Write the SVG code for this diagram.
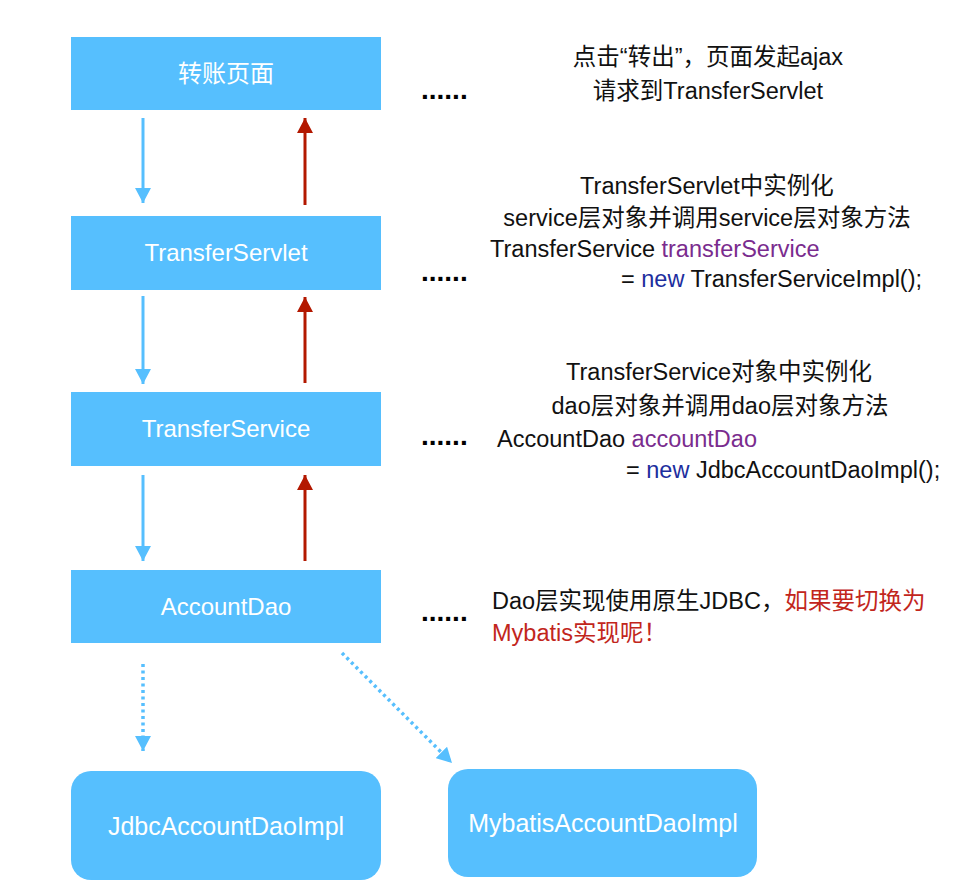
<svg xmlns="http://www.w3.org/2000/svg" width="973" height="886" viewBox="0 0 973 886">
<style>
.box{fill:#56BFFE;}
.lbl{font-family:"Liberation Sans","Noto Sans CJK SC",sans-serif;font-size:24px;fill:#ffffff;text-anchor:middle;}
.big{font-size:25px;}
.txt{font-family:"Liberation Sans","Noto Sans CJK SC",sans-serif;font-size:23.5px;fill:#111111;}
.mid{text-anchor:middle;}
.dots{font-family:"Liberation Sans",sans-serif;font-size:28px;font-weight:bold;fill:#000000;}
.purple{fill:#7A2C8E;}
.kw{fill:#1D2E9E;}
.red{fill:#C2261C;}
.down{stroke:#56BFFE;stroke-width:3;fill:none;}
.up{stroke:#B31800;stroke-width:3;fill:none;}
.dot{stroke:#56BFFE;stroke-width:3.5;fill:none;stroke-dasharray:3 3.5;}
</style>
<defs>
<marker id="ab" viewBox="0 0 15 16" refX="15" refY="8" markerWidth="15" markerHeight="16" markerUnits="userSpaceOnUse" orient="auto">
<path d="M0,0 L15,8 L0,16 Z" fill="#56BFFE"/>
</marker>
<marker id="ar" viewBox="0 0 15 16" refX="15" refY="8" markerWidth="15" markerHeight="16" markerUnits="userSpaceOnUse" orient="auto">
<path d="M0,0 L15,8 L0,16 Z" fill="#B31800"/>
</marker>
</defs>
<rect width="973" height="886" fill="#ffffff"/>

<g id="node-page"><rect class="box" x="71" y="37" width="310" height="73"/><text class="lbl" x="226" y="82">转账页面</text></g>
<g id="node-servlet"><rect class="box" x="71" y="216" width="310" height="74"/><text class="lbl" x="226" y="261">TransferServlet</text></g>
<g id="node-service"><rect class="box" x="71" y="392" width="310" height="74"/><text class="lbl" x="226" y="437">TransferService</text></g>
<g id="node-dao"><rect class="box" x="71" y="570" width="310" height="73"/><text class="lbl" x="226" y="615">AccountDao</text></g>
<g id="node-jdbc"><rect class="box" x="71" y="771" width="310" height="109" rx="20"/><text class="lbl big" x="226" y="835">JdbcAccountDaoImpl</text></g>
<g id="node-mybatis"><rect class="box" x="448" y="769" width="309" height="108" rx="20"/><text class="lbl big" x="603" y="832">MybatisAccountDaoImpl</text></g>

<g id="connectors">
<path class="down" d="M143,118 L143,203" marker-end="url(#ab)"/>
<path class="up" d="M305,205 L305,118" marker-end="url(#ar)"/>
<path class="down" d="M143,296 L143,384" marker-end="url(#ab)"/>
<path class="up" d="M305,383 L305,297" marker-end="url(#ar)"/>
<path class="down" d="M143,475 L143,561" marker-end="url(#ab)"/>
<path class="up" d="M305,561 L305,475" marker-end="url(#ar)"/>
<path class="dot" d="M143,664 L143,751" marker-end="url(#ab)"/>
<path class="dot" d="M342,653 L452,763" marker-end="url(#ab)"/>
</g>

<g id="notes">
<text class="dots" x="421" y="99">......</text>
<text class="txt mid" x="708" y="65">点击“转出”，页面发起ajax</text>
<text class="txt mid" x="708" y="99">请求到TransferServlet</text>

<text class="dots" x="421" y="281">......</text>
<text class="txt mid" x="707" y="194">TransferServlet中实例化</text>
<text class="txt mid" x="707" y="226">service层对象并调用service层对象方法</text>
<text class="txt" x="490" y="257">TransferService <tspan class="purple">transferService</tspan></text>
<text class="txt" x="621" y="287">= <tspan class="kw">new</tspan> TransferServiceImpl();</text>

<text class="dots" x="421" y="445">......</text>
<text class="txt mid" x="719" y="380">TransferService对象中实例化</text>
<text class="txt mid" x="720" y="414">dao层对象并调用dao层对象方法</text>
<text class="txt" x="497" y="447">AccountDao <tspan class="purple">accountDao</tspan></text>
<text class="txt" x="626" y="478">= <tspan class="kw">new</tspan> JdbcAccountDaoImpl();</text>

<text class="dots" x="421" y="621">......</text>
<text class="txt" x="492" y="609">Dao层实现使用原生JDBC，<tspan class="red">如果要切换为</tspan></text>
<text class="txt red" x="492" y="641">Mybatis实现呢！</text>
</g>
</svg>
